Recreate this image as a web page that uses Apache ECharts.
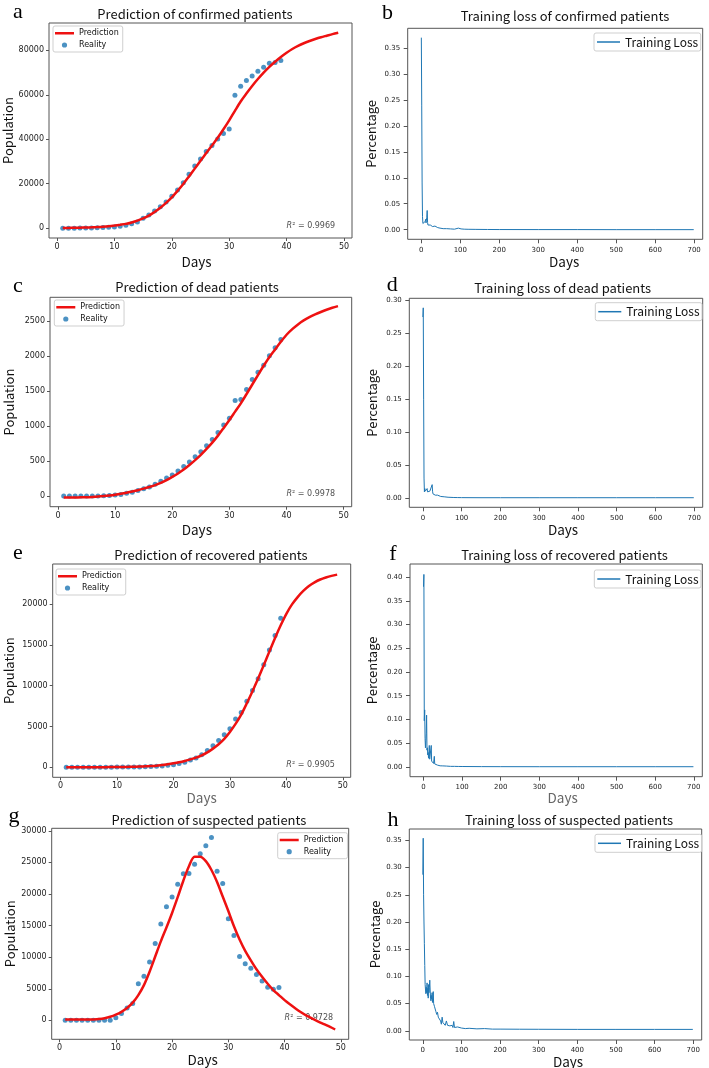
<!DOCTYPE html>
<html>
<head>
<meta charset="utf-8">
<script src="https://cdn.jsdelivr.net/npm/echarts@6.0.0/dist/echarts.min.js"></script>
<style>
  html, body { margin: 0; padding: 0; background: #fff; }
  #main { width: 709px; height: 1068px; }
</style>
</head>
<body>
<div id="main"></div>
<script>
// ---- data ----
const realityDays = [1,2,3,4,5,6,7,8,9,10,11,12,13,14,15,16,17,18,19,20,21,22,23,24,25,26,27,28,29,30,31,32,33,34,35,36,37,38,39];
const predictionDays = [1,2,3,4,5,6,7,8,9,10,11,12,13,14,15,16,17,18,19,20,21,22,23,24,25,26,27,28,29,30,31,32,33,34,35,36,37,38,39,40,41,42,43,44,45,46,47,48,49];

const confirmedReal = [41,41,41,45,62,121,198,291,440,571,830,1287,1975,2744,4515,5974,7711,9692,11791,14380,17205,20438,24324,28018,31161,34546,37198,40171,42638,44653,59804,63851,66492,68500,70548,72436,74185,74576,75465];
const confirmedPred = [100,150,200,260,330,420,530,680,900,1200,1550,1950,2600,3400,4400,5700,7300,9200,11400,13900,16800,19900,23300,26800,30300,33800,37200,40700,44500,48500,52800,57000,60600,64000,67100,70000,72600,74900,77000,78900,80600,82000,83200,84200,85100,85900,86600,87300,87900];

const deadReal = [1,1,1,1,2,3,4,6,9,17,25,41,56,80,106,132,170,213,259,304,361,425,490,563,636,722,811,908,1016,1113,1367,1380,1523,1665,1770,1868,2004,2118,2236];
const deadPred = [-19,-19,-18,-16,-14,-10,-5,2,11,22,35,50,67,86,108,132,158,190,230,276,325,380,445,515,590,675,765,865,975,1088,1207,1326,1459,1595,1730,1862,1987,2096,2205,2305,2385,2453,2510,2556,2595,2630,2662,2690,2714];

const recoveredReal = [0,0,1,3,5,12,12,24,25,28,34,38,49,51,60,103,124,171,243,328,475,632,892,1153,1540,2050,2649,3281,3996,4740,5911,6723,8096,9419,10844,12552,14376,16155,18264];
const recoveredPred = [0,0,5,8,10,15,20,25,30,40,50,60,75,90,120,150,200,290,380,490,620,780,970,1190,1470,1840,2290,2820,3480,4335,5320,6460,7850,9330,10880,12515,14200,15850,17400,18800,19950,20850,21600,22200,22650,23000,23250,23450,23600];

const suspectedReal = [0,0,0,0,0,0,0,0,0,393,1072,1965,2684,5794,6973,9239,12167,15238,17988,19544,21558,23214,23260,24702,26359,27657,28942,23589,21675,16067,13435,10109,8969,8228,7264,6242,5248,4922,5206];
const suspectedPred = [150,140,130,120,120,140,200,330,560,900,1350,1950,2800,4000,5580,7700,10100,12500,14700,17000,19500,22100,24400,25900,25900,25200,23800,21900,19600,17300,14900,12800,11000,9500,8100,6900,5800,4800,4000,3200,2500,1850,1250,700,250,-200,-600,-1000,-1450];

const r2Confirmed = '0.9969';
const r2Dead = '0.9978';
const r2Recovered = '0.9905';
const r2Suspected = '0.9728';

const lossEpochsB = [0,1,2,3,4,5,6,7,8,9,10,11,12,13,14,15,16,17,19,21,23,25,27,29,31,33,35,37,39,42,45,48,52,56,60,65,70,75,80,85,90,95,98,102,110,120,140,170,200,300,400,500,600,699];
const lossB = [0.370,0.240,0.090,0.025,0.012,0.011,0.013,0.010,0.012,0.011,0.016,0.020,0.013,0.018,0.024,0.037,0.014,0.009,0.010,0.007,0.009,0.006,0.008,0.006,0.007,0.005,0.007,0.004,0.006,0.004,0.005,0.003,0.004,0.002,0.003,0.002,0.002,0.0015,0.002,0.001,0.0015,0.003,0.001,0.0015,0.001,0.0008,0.0006,0.0004,0.0003,0.0002,0.0002,0.0001,0.0001,0.0001];

const lossEpochsD = [0,1,2,3,4,5,6,7,8,9,10,11,12,13,14,15,16,17,18,19,20,21,22,23,24,25,26,28,30,32,34,36,38,40,43,46,50,55,60,65,70,80,90,100,150,200,300,400,500,600,699];
const lossD = [0.275,0.289,0.150,0.030,0.009,0.014,0.010,0.013,0.009,0.012,0.010,0.014,0.009,0.012,0.008,0.011,0.009,0.008,0.010,0.007,0.009,0.007,0.008,0.012,0.020,0.010,0.006,0.005,0.006,0.004,0.005,0.004,0.004,0.003,0.003,0.002,0.002,0.0015,0.001,0.0008,0.0006,0.0004,0.0003,0.0002,0.0001,0.0001,0.0001,0.0001,0.0001,0.0001,0.0001];

const lossEpochsF = [0,1,2,3,4,5,6,7,8,9,10,11,12,13,14,15,16,17,18,19,20,21,22,23,24,25,26,27,28,29,30,32,34,36,38,40,43,46,50,55,60,65,70,80,90,100,150,200,300,400,500,600,699];
const lossF = [0.380,0.406,0.097,0.120,0.060,0.040,0.055,0.070,0.109,0.035,0.040,0.025,0.030,0.018,0.020,0.045,0.016,0.014,0.012,0.015,0.045,0.012,0.010,0.009,0.008,0.010,0.007,0.006,0.022,0.006,0.005,0.004,0.003,0.0035,0.0025,0.002,0.002,0.0015,0.0018,0.001,0.0014,0.001,0.0008,0.0008,0.0006,0.0005,0.0003,0.0002,0.0001,0.0001,0.0001,0.0001,0.0001];

const lossEpochsH = [0,1,2,3,4,5,6,7,8,9,10,11,12,13,14,15,16,17,18,19,20,21,22,23,24,25,26,27,28,30,32,34,36,38,40,42,44,46,48,50,52,55,58,61,64,67,70,73,76,78,80,82,85,90,95,100,110,120,140,160,180,200,250,300,400,500,600,699];
const lossH = [0.287,0.354,0.250,0.200,0.160,0.120,0.085,0.075,0.068,0.080,0.070,0.088,0.065,0.078,0.060,0.085,0.070,0.080,0.093,0.075,0.060,0.055,0.065,0.058,0.070,0.052,0.060,0.072,0.050,0.045,0.040,0.035,0.030,0.034,0.025,0.028,0.022,0.018,0.012,0.025,0.015,0.012,0.010,0.018,0.010,0.008,0.009,0.007,0.010,0.006,0.017,0.006,0.005,0.007,0.004,0.005,0.004,0.0045,0.0035,0.004,0.003,0.003,0.0028,0.0027,0.0025,0.0025,0.0025,0.0025];

// tick labels
const dayTicks = [0,10,20,30,40,50];
const epochTicks = [0,100,200,300,400,500,600,700];
const confirmedTicks = [0,20000,40000,60000,80000];
const deadTicks = [0,500,1000,1500,2000,2500];
const recoveredTicks = [0,5000,10000,15000,20000];
const suspectedTicks = [0,5000,10000,15000,20000,25000,30000];
const lossTicksB = [0,0.05,0.10,0.15,0.20,0.25,0.30,0.35];
const lossTicksD = [0,0.05,0.10,0.15,0.20,0.25,0.30];
const lossTicksF = [0,0.05,0.10,0.15,0.20,0.25,0.30,0.35,0.40];
const lossTicksH = [0,0.05,0.10,0.15,0.20,0.25,0.30,0.35];

// ---- layout ----
const uiFont = '"Noto Sans CJK SC", "Noto Sans", sans-serif';
const tickFont = '"DejaVu Sans", sans-serif';
const RED = '#ee1111';
const BLUE = '#1f77b4';
const FRAME = '#555';

const predPanels = [
  { title: 'Prediction of confirmed patients', letter: 'a', frame: [49, 23, 303, 215], yr: [-4400, 92300],
    yTicks: confirmedTicks, real: confirmedReal, pred: confirmedPred, r2: r2Confirmed,
    titleXY: [195, 14], letterXY: [18, 12.5], legend: [53, 26], xGap: 17, xPad: [0, 8, 0, 0], yGap: 33.7, xColor: '#111' },
  { title: 'Prediction of dead patients', letter: 'c', frame: [50, 297.3, 301.7, 209.4], yr: [-150, 2840],
    yTicks: deadTicks, real: deadReal, pred: deadPred, r2: r2Dead,
    titleXY: [197, 286.7], letterXY: [18, 286.7], legend: [54.3, 300], xGap: 16.5, xPad: [0, 8, 0, 0], yGap: 34.7, xColor: '#111' },
  { title: 'Prediction of recovered patients', letter: 'e', frame: [52.7, 564, 298, 213.3], yr: [-1220, 24900],
    yTicks: recoveredTicks, real: recoveredReal, pred: recoveredPred, r2: r2Recovered,
    titleXY: [211, 555], letterXY: [18, 553.4], legend: [56, 569], xGap: 11, xPad: [0, 0, 0, 0], yGap: 37.4, xColor: '#666' },
  { title: 'Prediction of suspected patients', letter: 'g', frame: [51.7, 828.3, 297, 211], yr: [-3000, 30400],
    yTicks: suspectedTicks, real: suspectedReal, pred: suspectedPred, r2: r2Suspected,
    titleXY: [209, 820], letterXY: [14, 816.4], legend: [277.7, 832.7], xGap: 9, xPad: [0, 0, 0, 5], yGap: 34.7, xColor: '#111' }
];

const lossPanels = [
  { title: 'Training loss of confirmed patients', letter: 'b', frame: [407.7, 28.3, 295, 211], yr: [-0.0185, 0.388],
    yTicks: lossTicksB, epochs: lossEpochsB, loss: lossB,
    titleXY: [565, 15.7], letterXY: [387.6, 13.4], legend: [594, 33], xGap: 16, xPad: [0, 0, 0, 18], yGap: 30, xColor: '#111' },
  { title: 'Training loss of dead patients', letter: 'd', frame: [409.3, 298.3, 293.4, 209], yr: [-0.0145, 0.3035],
    yTicks: lossTicksD, epochs: lossEpochsD, loss: lossD,
    titleXY: [562.7, 287.7], letterXY: [392.3, 285.7], legend: [595.3, 302.7], xGap: 16, xPad: [0, 0, 0, 14], yGap: 30.6, xColor: '#111' },
  { title: 'Training loss of recovered patients', letter: 'f', frame: [410, 564, 292.3, 212.7], yr: [-0.021, 0.428],
    yTicks: lossTicksF, epochs: lossEpochsF, loss: lossF,
    titleXY: [564.5, 555], letterXY: [393, 554.4], legend: [594.3, 570], xGap: 11, xPad: [0, 0, 0, 13], yGap: 31.3, xColor: '#666' },
  { title: 'Training loss of suspected patients', letter: 'h', frame: [409.3, 829, 292.4, 211], yr: [-0.017, 0.371],
    yTicks: lossTicksH, epochs: lossEpochsH, loss: lossH,
    titleXY: [569, 820], letterXY: [393, 820], legend: [595, 834.3], xGap: 12.5, xPad: [0, 0, 0, 25], yGap: 27.3, xColor: '#111' }
];

// legend icons: bounding points at (0,0) and (w,h) keep the drawn part at its real size
const predIcon = 'path://M0,0L0.01,0M0,2.25L19,2.25L19,4.75L0,4.75ZM19,7L18.99,7';
const realIcon = 'path://M0,0L0.01,0M6.9,3.5A2.6,2.6,0,1,0,12.1,3.5A2.6,2.6,0,1,0,6.9,3.5ZM19,7L18.99,7';

const grids = [], xAxes = [], yAxes = [], series = [], legends = [], texts = [];

function addAxes(p, idx, small, xr, xTicks, yName) {
  grids.push({
    left: p.frame[0], top: p.frame[1], width: p.frame[2], height: p.frame[3],
    show: true, borderColor: FRAME, borderWidth: 1, backgroundColor: 'transparent',
    containLabel: false, outerBoundsMode: 'none'
  });
  const fs = small ? 7 : 8;
  const tickLen = small ? 4 : 3;
  xAxes.push({
    type: 'value', gridIndex: idx, min: xr[0], max: xr[1],
    name: 'Days', nameLocation: 'middle', nameGap: p.xGap,
    nameTextStyle: { fontFamily: uiFont, fontSize: 13.5, color: p.xColor, padding: p.xPad },
    axisLine: { show: false, onZero: false }, splitLine: { show: false },
    axisTick: { show: true, length: tickLen, lineStyle: { color: FRAME, width: 1 }, customValues: xTicks },
    axisLabel: { customValues: xTicks, margin: small ? 7 : 5, fontFamily: tickFont, fontSize: fs, color: '#222',
      formatter: v => String(v) }
  });
  yAxes.push({
    type: 'value', gridIndex: idx, min: p.yr[0], max: p.yr[1],
    name: yName, nameLocation: 'middle', nameGap: p.yGap, nameRotate: 90,
    nameTextStyle: { fontFamily: uiFont, fontSize: 13, color: '#111' },
    axisLine: { show: false, onZero: false }, splitLine: { show: false },
    axisTick: { show: true, length: tickLen, lineStyle: { color: FRAME, width: 1 }, customValues: p.yTicks },
    axisLabel: { customValues: p.yTicks, margin: small ? 7.5 : 5, fontFamily: tickFont, fontSize: fs, color: '#222',
      formatter: small ? (v => v.toFixed(2)) : (v => String(v)) }
  });
  texts.push({
    type: 'text', silent: true,
    style: { text: p.title, x: p.titleXY[0], y: p.titleXY[1], align: 'center', verticalAlign: 'middle',
      font: '13px ' + uiFont, fill: '#111' }
  });
  texts.push({
    type: 'text', silent: true,
    style: { text: p.letter, x: p.letterXY[0], y: p.letterXY[1], align: 'center', verticalAlign: 'middle',
      font: '22px "Liberation Serif", "DejaVu Serif", serif', fill: '#000' }
  });
}

predPanels.forEach(p => {
  const idx = grids.length;
  addAxes(p, idx, false, [-1.4, 51.4], dayTicks, 'Population');
  series.push({
    type: 'scatter', xAxisIndex: idx, yAxisIndex: idx, silent: true, z: 1,
    symbolSize: 0, data: [[40, 0]],
    label: {
      show: true, position: 'right', distance: 0, offset: [0, -2],
      formatter: '{it|R}² = ' + p.r2,
      fontFamily: tickFont, fontSize: 8, color: '#222',
      rich: { it: { fontFamily: tickFont, fontSize: 8, fontStyle: 'italic', color: '#222' } }
    }
  });
  series.push({
    type: 'scatter', name: 'Reality', xAxisIndex: idx, yAxisIndex: idx, z: 2,
    symbol: 'circle', symbolSize: 5,
    itemStyle: { color: BLUE },
    data: realityDays.map((d, i) => [d, p.real[i]])
  });
  series.push({
    type: 'line', name: 'Prediction', xAxisIndex: idx, yAxisIndex: idx, z: 3,
    symbol: 'none', smooth: 0.3,
    lineStyle: { color: RED, width: 2.5 }, itemStyle: { color: RED },
    data: predictionDays.map((d, i) => [d, p.pred[i]])
  });
  legends.push({
    left: p.legend[0], top: p.legend[1], orient: 'vertical', selectedMode: false,
    itemWidth: 19, itemHeight: 7, itemGap: 3.7, padding: [3.3, 4, 3, 2],
    data: [{ name: 'Prediction', icon: predIcon, itemStyle: { color: RED } },
           { name: 'Reality', icon: realIcon, itemStyle: { color: BLUE } }],
    textStyle: { fontFamily: tickFont, fontSize: 8, color: '#111' },
    borderColor: '#cfcfcf', borderWidth: 1, borderRadius: 2, backgroundColor: 'rgba(255,255,255,0.85)'
  });
});

lossPanels.forEach(p => {
  const idx = grids.length;
  addAxes(p, idx, true, [-35, 722], epochTicks, 'Percentage');
  series.push({
    type: 'line', name: 'Training Loss', xAxisIndex: idx, yAxisIndex: idx,
    symbol: 'none', lineStyle: { color: BLUE, width: 1 }, itemStyle: { color: BLUE },
    data: p.epochs.map((e, i) => [e, p.loss[i]])
  });
  legends.push({
    left: p.legend[0], top: p.legend[1], selectedMode: false,
    itemWidth: 23, itemHeight: 1.5, padding: [3, 2.5, 3, 3],
    data: [{ name: 'Training Loss', icon: 'rect', itemStyle: { color: BLUE } }],
    textStyle: { fontFamily: uiFont, fontSize: 12, color: '#111' },
    borderColor: '#cfcfcf', borderWidth: 1, borderRadius: 2, backgroundColor: 'rgba(255,255,255,0.85)'
  });
});

const chart = echarts.init(document.getElementById('main'), null, { renderer: 'canvas' });
chart.setOption({
  animation: false,
  backgroundColor: '#fff',
  textStyle: { fontFamily: uiFont },
  grid: grids,
  xAxis: xAxes,
  yAxis: yAxes,
  legend: legends,
  series: series,
  graphic: texts
});
</script>
</body>
</html>
